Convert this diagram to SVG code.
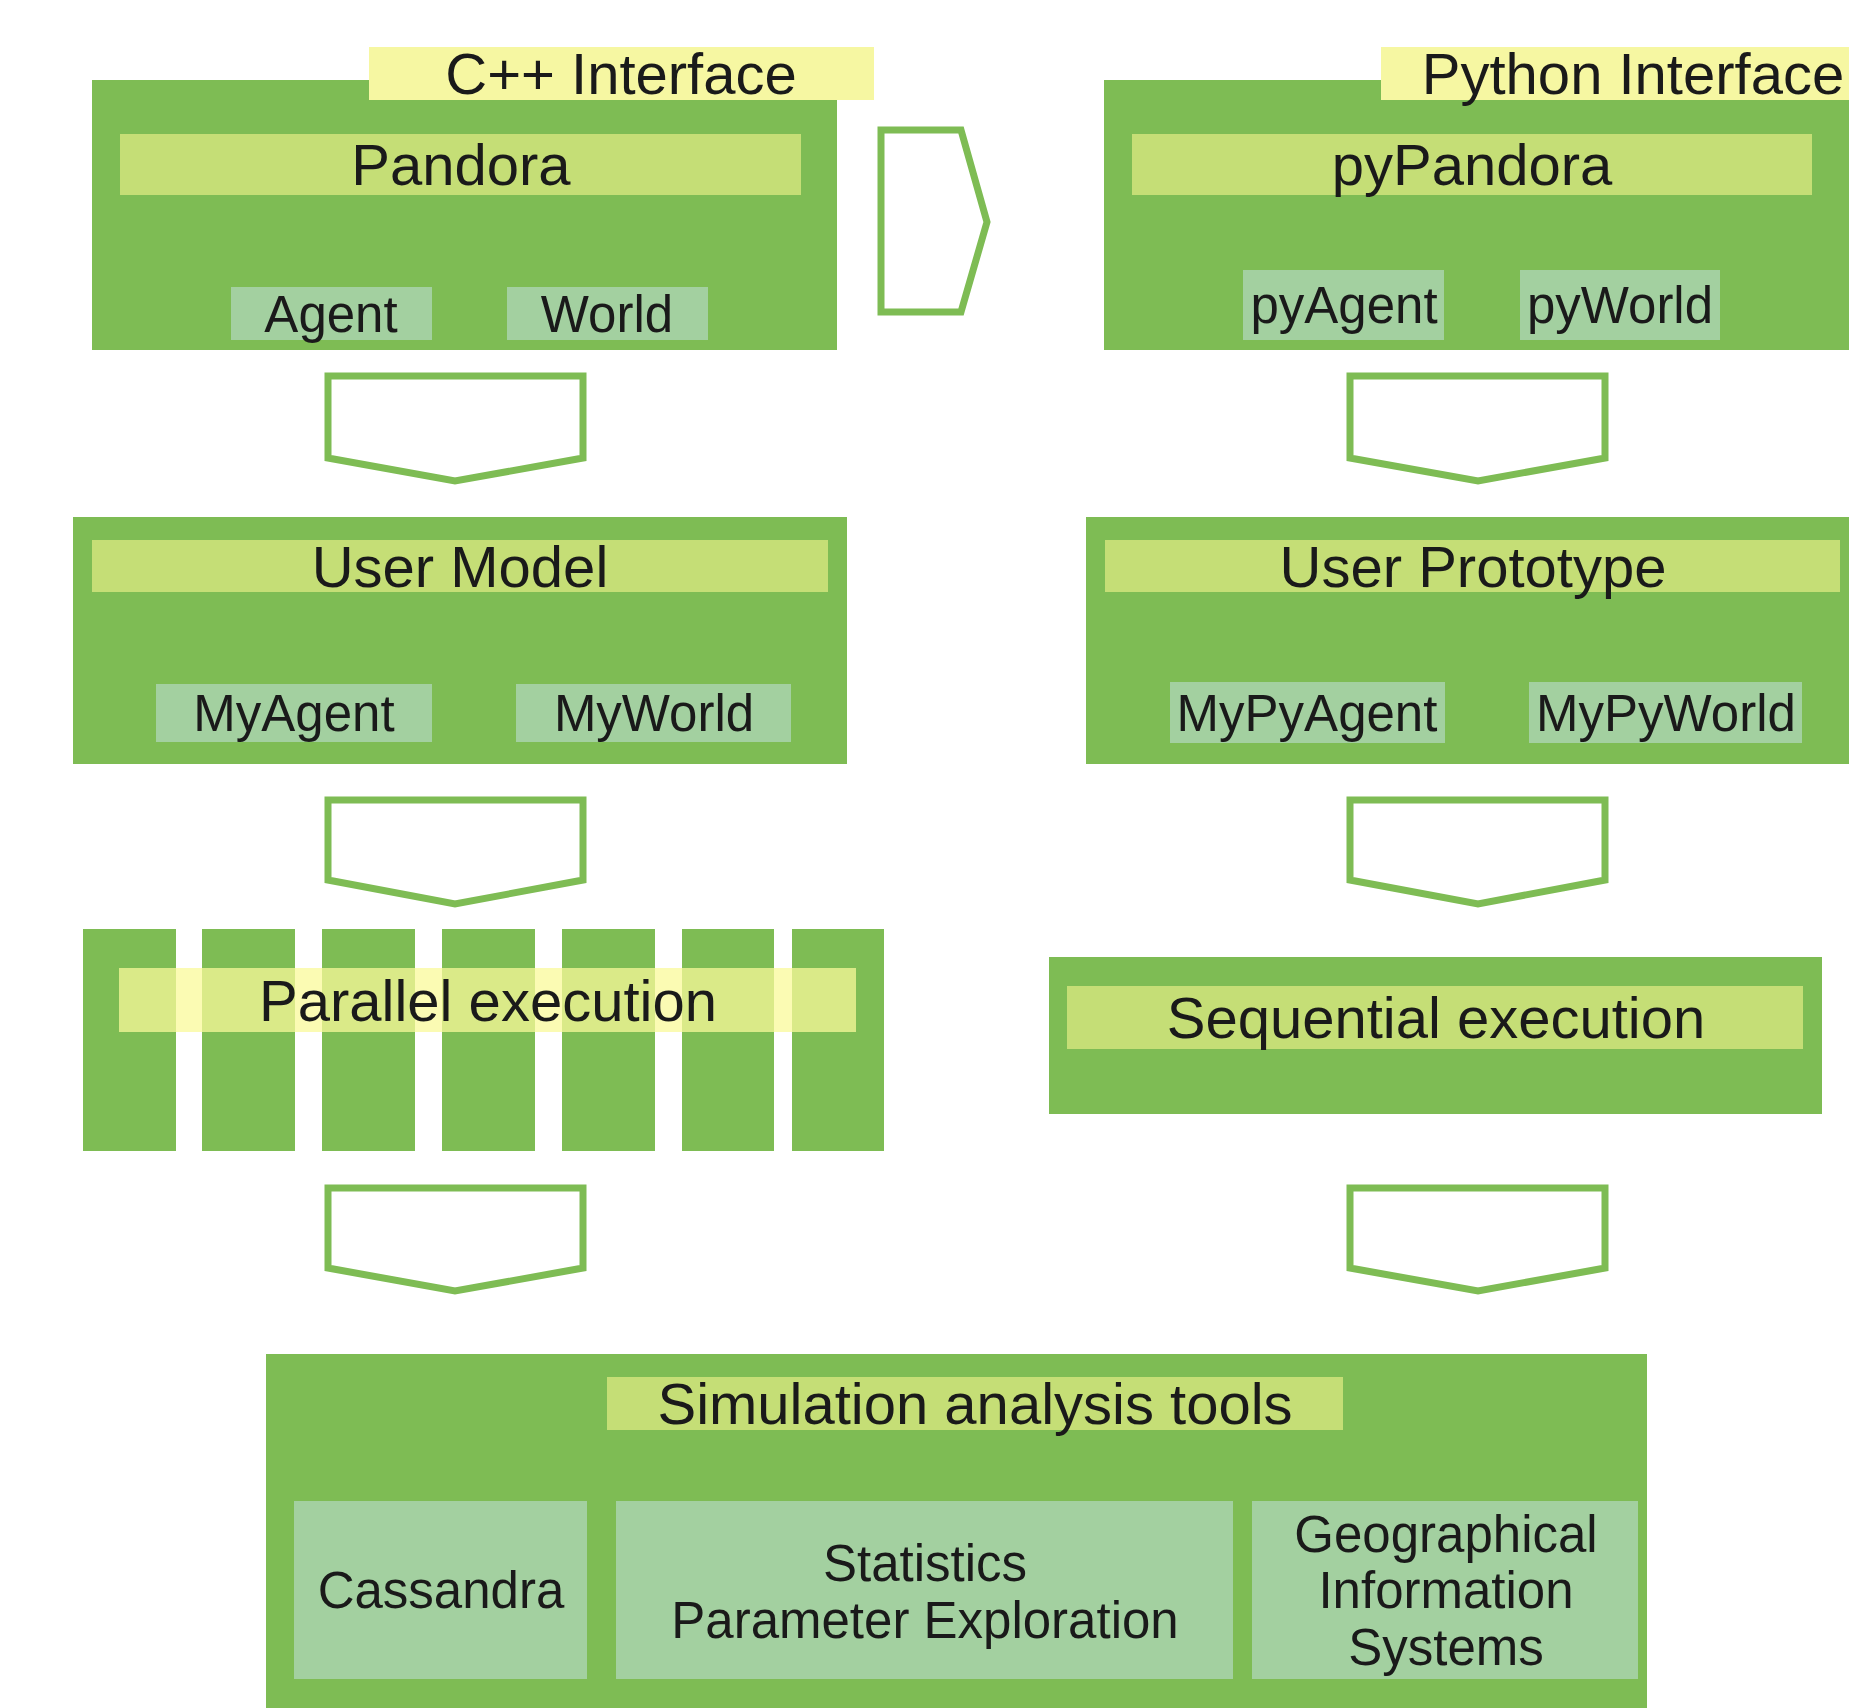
<svg xmlns="http://www.w3.org/2000/svg" width="1849" height="1708" viewBox="0 0 1849 1708">
<style>
.box{fill:#7ebc54}
.bar{fill:#c5de76}
.sub{fill:#a3d0a0}
.lab{fill:#f6f7a2}
.pbar{fill:#fafa9a;fill-opacity:0.75}
.gap{fill:#ffffff}
.arr{fill:#ffffff;stroke:#7ebc54;stroke-width:7;stroke-linejoin:miter}
text{font-family:"Liberation Sans",Arial,sans-serif;fill:#1a1a1a;text-anchor:middle}
.h{font-size:58px}
.s{font-size:51px}
</style>
<rect width="1849" height="1708" fill="#ffffff"/>

<g id="cpp">
<rect class="box" x="92" y="80" width="745" height="270"/>
<rect class="lab" x="369" y="47" width="505" height="53"/>
<text class="h" x="621" y="94">C++ Interface</text>
<rect class="bar" x="120" y="134" width="681" height="61"/>
<text class="h" x="461" y="185">Pandora</text>
<rect class="sub" x="231" y="287" width="201" height="53"/>
<text class="s" x="331" y="332">Agent</text>
<rect class="sub" x="507" y="287" width="201" height="53"/>
<text class="s" x="607" y="332">World</text>
</g>

<g id="python">
<rect class="box" x="1104" y="80" width="745" height="270"/>
<rect class="lab" x="1381" y="47" width="468" height="53"/>
<text class="h" x="1633" y="94">Python Interface</text>
<rect class="bar" x="1132" y="134" width="680" height="61"/>
<text class="h" x="1472" y="185">pyPandora</text>
<rect class="sub" x="1243" y="270" width="201" height="70"/>
<text class="s" x="1344" y="323">pyAgent</text>
<rect class="sub" x="1520" y="270" width="200" height="70"/>
<text class="s" x="1620" y="323">pyWorld</text>
</g>

<g id="usermodel">
<rect class="box" x="73" y="517" width="774" height="247"/>
<rect class="bar" x="92" y="540" width="736" height="52"/>
<text class="h" x="460" y="587">User Model</text>
<rect class="sub" x="156" y="684" width="276" height="58"/>
<text class="s" x="294" y="731">MyAgent</text>
<rect class="sub" x="516" y="684" width="275" height="58"/>
<text class="s" x="654" y="731">MyWorld</text>
</g>

<g id="userprototype">
<rect class="box" x="1086" y="517" width="763" height="247"/>
<rect class="bar" x="1105" y="540" width="735" height="52"/>
<text class="h" x="1473" y="587">User Prototype</text>
<rect class="sub" x="1170" y="682" width="275" height="61"/>
<text class="s" x="1307" y="731">MyPyAgent</text>
<rect class="sub" x="1529" y="682" width="273" height="61"/>
<text class="s" x="1666" y="731">MyPyWorld</text>
</g>

<g id="parallel">
<rect class="box" x="83" y="929" width="801" height="222"/>
<rect class="gap" x="176" y="929" width="26" height="222"/>
<rect class="gap" x="295" y="929" width="27" height="222"/>
<rect class="gap" x="415" y="929" width="27" height="222"/>
<rect class="gap" x="535" y="929" width="27" height="222"/>
<rect class="gap" x="655" y="929" width="27" height="222"/>
<rect class="gap" x="774" y="929" width="18" height="222"/>
<rect class="pbar" x="119" y="968" width="737" height="64"/>
<text class="h" x="488" y="1021">Parallel execution</text>
</g>

<g id="sequential">
<rect class="box" x="1049" y="957" width="773" height="157"/>
<rect class="bar" x="1067" y="986" width="736" height="63"/>
<text class="h" x="1436" y="1038">Sequential execution</text>
</g>

<g id="analysis">
<rect class="box" x="266" y="1354" width="1381" height="354"/>
<rect class="bar" x="607" y="1377" width="736" height="53"/>
<text class="h" x="975" y="1424">Simulation analysis tools</text>
<rect class="sub" x="294" y="1501" width="293" height="178"/>
<text class="s" x="441" y="1608">Cassandra</text>
<rect class="sub" x="616" y="1501" width="617" height="178"/>
<text class="s" x="925" y="1581">Statistics</text>
<text class="s" x="925" y="1638">Parameter Exploration</text>
<rect class="sub" x="1252" y="1501" width="386" height="178"/>
<text class="s" x="1446" y="1552">Geographical</text>
<text class="s" x="1446" y="1608">Information</text>
<text class="s" x="1446" y="1665">Systems</text>
</g>

<g id="connectors">
<polygon class="arr" points="881,130 961,130 987,222 961,312 881,312"/>
<polygon class="arr" points="328,376 583,376 583,458 455,481 328,458"/>
<polygon class="arr" points="1350,376 1605,376 1605,458 1478,481 1350,458"/>
<polygon class="arr" points="328,800 583,800 583,880 455,904 328,880"/>
<polygon class="arr" points="1350,800 1605,800 1605,880 1478,904 1350,880"/>
<polygon class="arr" points="328,1188 583,1188 583,1268 455,1291 328,1268"/>
<polygon class="arr" points="1350,1188 1605,1188 1605,1268 1478,1291 1350,1268"/>
</g>
</svg>
